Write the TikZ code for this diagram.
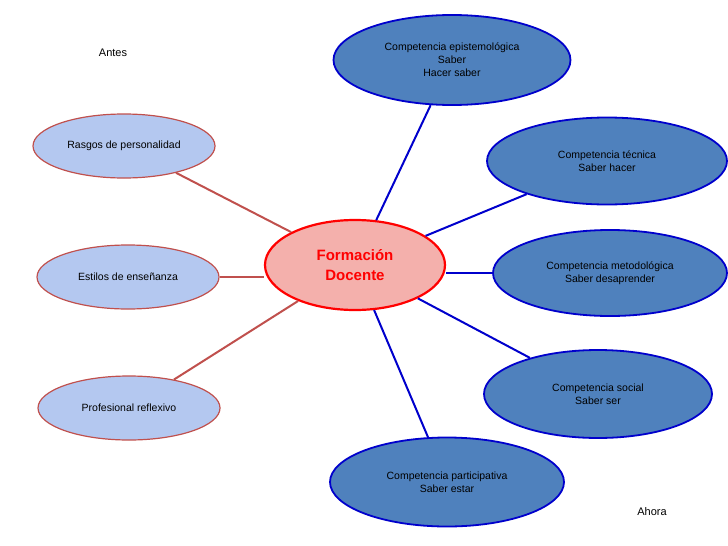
\documentclass[tikz,border=0pt]{standalone}
\usepackage{fontspec}
\setmainfont{Liberation Sans}
\usetikzlibrary{shapes.geometric}
\definecolor{lblue}{HTML}{B4C8F0}
\definecolor{dblue}{HTML}{4F81BD}
\definecolor{bordb}{HTML}{0000CC}
\definecolor{bordr}{HTML}{C0504D}
\definecolor{pinkf}{HTML}{F4B0AC}
\begin{document}
\begin{tikzpicture}[x=1pt,y=-1pt,
 old/.style={ellipse,draw=bordr,line width=1.2pt,fill=lblue,minimum width=182pt,minimum height=64pt,inner sep=0pt,font=\fontsize{10.5}{13}\selectfont,align=center},
 new/.style={ellipse,draw=bordb,line width=1.8pt,fill=dblue,minimum width=236pt,minimum height=88pt,inner sep=0pt,font=\fontsize{10.5}{13}\selectfont,align=center},
 rl/.style={draw=bordr,line width=2pt},
 bl/.style={draw=bordb,line width=2pt}]
\useasboundingbox (0,0) rectangle (728,546);
\node[ellipse,draw=red,line width=2.2pt,fill=pinkf,minimum width=180pt,minimum height=90pt,align=center,text=red,font=\fontsize{15}{20}\selectfont\bfseries] (c) at (355,265) {Formación\\Docente};
\node[old] (r) at (124,146) {Rasgos de personalidad};
\node[old] (e) at (128,277) {Estilos de enseñanza};
\node[old] (p) at (129,408) {Profesional reflexivo};
\node[new,minimum width=237pt,minimum height=90pt] (ep) at (452,60) {Competencia epistemológica\\Saber\\Hacer saber};
\node[new,minimum width=240pt,minimum height=87pt] (t) at (607,161) {Competencia técnica\\Saber hacer};
\node[new,minimum width=234pt,minimum height=86pt] (m) at (610,273) {Competencia metodológica\\Saber desaprender};
\node[new,minimum width=228pt,minimum height=88pt] (s) at (598,394) {Competencia social\\Saber ser};
\node[new,minimum width=234pt,minimum height=89pt] (pa) at (447,482) {Competencia participativa\\Saber estar};
\draw[rl] (r) -- (c);
\draw[rl] (e.east) -- (c.west |- e.east);
\draw[rl] (p) -- (c);
\draw[bl] (c) -- (ep);
\draw[bl] (c) -- (t);
\draw[bl] (c.east |- m.west) -- (m.west);
\draw[bl] (c) -- (s);
\draw[bl] (c) -- (pa);
\node[font=\fontsize{11}{13}\selectfont] (an) at (113,53) {Antes};
\node[font=\fontsize{11}{13}\selectfont] (ah) at (652,512) {Ahora};
\end{tikzpicture}
\end{document}
